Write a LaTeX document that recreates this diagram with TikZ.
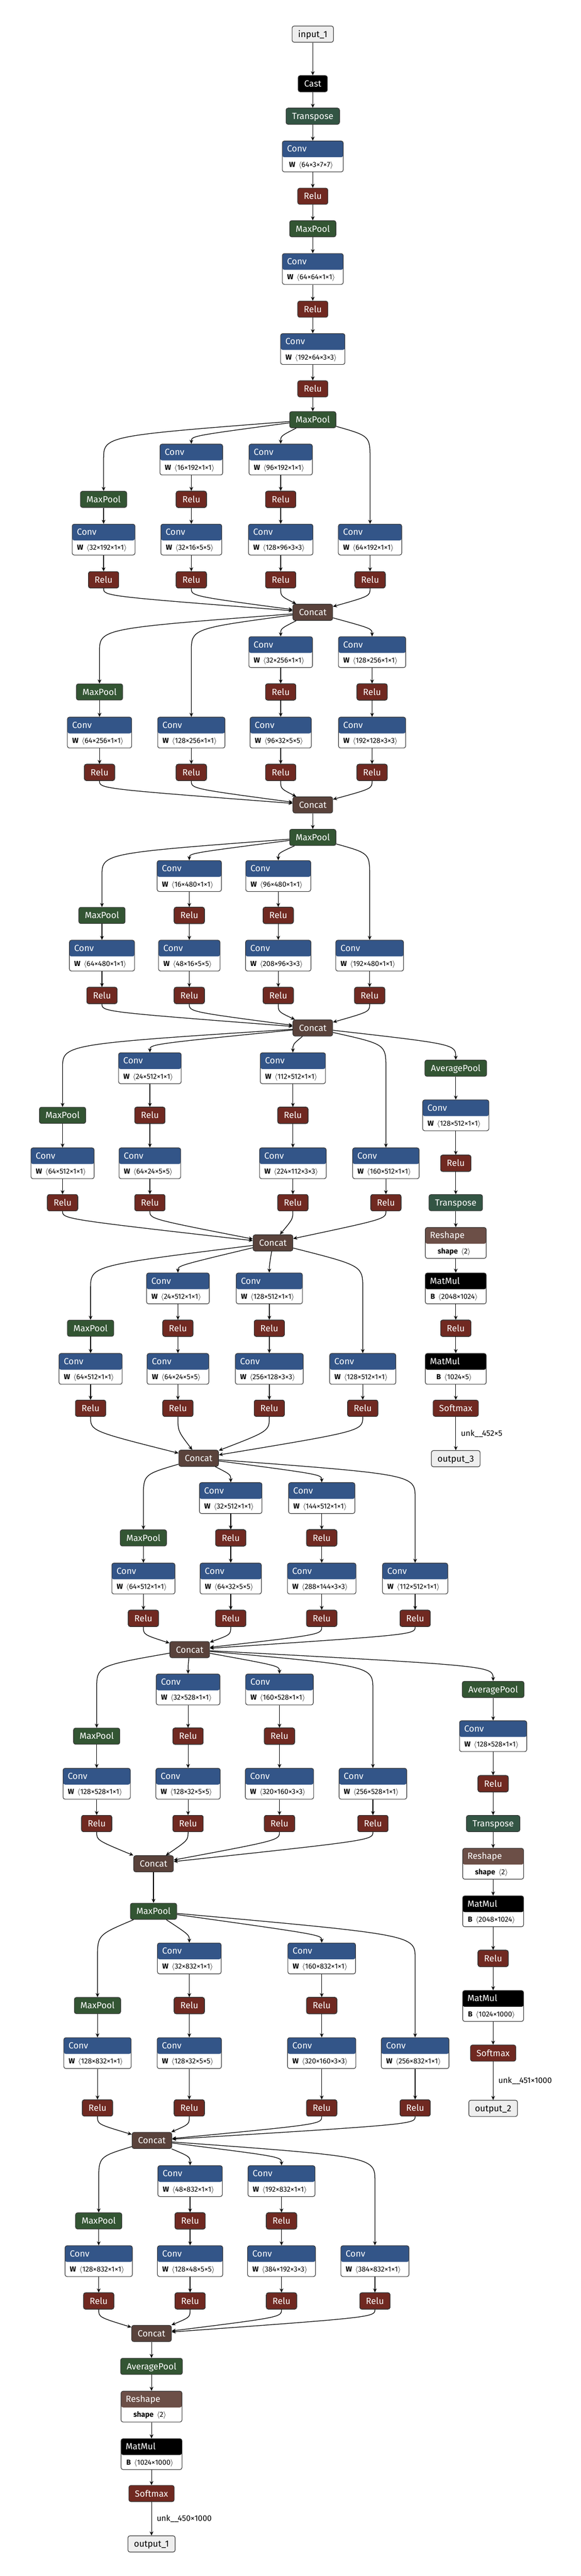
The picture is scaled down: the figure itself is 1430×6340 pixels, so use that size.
\documentclass[tikz,border=0pt]{standalone}
\usepackage{fontspec}
\setmainfont{Fira Sans}
\usepackage{xcolor}
\usetikzlibrary{arrows.meta}

\definecolor{convblue}{HTML}{335588}
\definecolor{actred}{HTML}{702921}
\definecolor{poolgreen}{HTML}{335533}
\definecolor{transgreen}{HTML}{335544}
\definecolor{shapebrown}{HTML}{6C4F47}
\definecolor{tensorbrown}{HTML}{59423B}
\definecolor{iogray}{HTML}{EEEEEE}
\definecolor{linegray}{HTML}{333333}

% box with a coloured header and one attribute line
\newcommand\opnode[6]{%
  \node[opbody=#4] (#1) at (#2,#3) {#6\hspace{4pt}};
  \node[optitle] at ([xshift=6pt,yshift=-10pt]#1.north west) {#5};
}
\newcommand\convnode[4]{\opnode{#1}{#2}{#3}{convblue}{Conv}{\textbf{W}\hspace{4pt}$\langle$#4$\rangle$}}

\begin{document}
\begin{tikzpicture}[x=0.5pt, y=-0.5pt]
    \tikzset{
        simple/.style={draw=linegray, line width=0.7pt, rounded corners=2.5pt, text=white,
                font=\fontsize{11}{12}\selectfont, minimum height=20pt, inner xsep=7.5pt,
                inner ysep=0pt, text height=7.7pt, text depth=0pt},
        relu/.style={simple, fill=actred},
        pool/.style={simple, fill=poolgreen},
        trans/.style={simple, fill=transgreen},
        concat/.style={simple, fill=tensorbrown},
        defop/.style={simple, fill=black},
        io/.style={simple, fill=iogray, text=black},
        opbody/.style={draw=linegray, line width=0.7pt, rounded corners=2.5pt, fill=white,
                font=\fontsize{9}{10}\selectfont, minimum width=75pt, inner xsep=6pt,
                inner ysep=0pt, text height=32.1pt, text depth=5.9pt, align=left,
                path picture={\fill[#1] (path picture bounding box.north west)
                        rectangle ([yshift=-20pt]path picture bounding box.north east);}},
        optitle/.style={anchor=west, text=white, font=\fontsize{11}{12}\selectfont,
                inner sep=0pt, text height=7.7pt, text depth=0pt},
        edge/.style={-{Stealth[length=5pt,width=4.5pt]}, line width=0.8pt, black},
        elabel/.style={right, font=\fontsize{10}{12}\selectfont, text=black, inner xsep=6pt}
    }
    \fill[white] (0,0) rectangle (1430,6340);
    \useasboundingbox (0,0) rectangle (1430,6340);

    % Stem
    \node[io] (in1) at (770,84) {input\_1};
    \node[defop] (cast) at (770,206) {Cast};
    \node[trans] (tr0) at (770,286) {Transpose};
    \convnode{c0}{770}{385}{64×3×7×7}
    \node[relu] (r0) at (770,483) {Relu};
    \node[pool] (mp0) at (770,563) {MaxPool};
    \convnode{c1}{770}{662}{64×64×1×1}
    \node[relu] (r1) at (770,761) {Relu};
    \convnode{c2}{770}{859}{192×64×3×3}
    \node[relu] (r2) at (770,957) {Relu};
    \node[pool] (mp1) at (770,1033) {MaxPool};
    \foreach \a/\b in {in1/cast, cast/tr0, tr0/c0, c0/r0, r0/mp0, mp0/c1, c1/r1, r1/c2, c2/r2, r2/mp1}
        \draw[edge] (\a) -- (\b);

    % Inception 3a
    \node[pool] (m3a) at (255,1229) {MaxPool};
    \foreach \n/\x/\y/\d in {c3a2/471/1131/16×192×1×1, c3a4/691/1131/96×192×1×1,
            c3a1/255/1328/32×192×1×1, c3a3/471/1328/32×16×5×5, c3a5/691/1328/128×96×3×3,
            c3a6/911/1328/64×192×1×1}
        \convnode{\n}{\x}{\y}{\d}
    \foreach \n/\x/\y in {r3a2/471/1229, r3a4/691/1229, r3a1/255/1427, r3a3/471/1427,
            r3a5/691/1427, r3a6/911/1427}
        \node[relu] (\n) at (\x,\y) {Relu};
    \node[concat] (cc3a) at (770,1507) {Concat};
    \foreach \t/\x in {c3a2/471, c3a4/691}
        \draw[edge] (mp1) .. controls (\x,1073) .. (\t);
    \foreach \t/\x in {m3a/255, c3a6/911}
        \draw[edge] (mp1) .. controls (\x,1073) .. (\x,1131) -- (\t);
    \foreach \a/\b in {m3a/c3a1, c3a1/r3a1, c3a2/r3a2, r3a2/c3a3, c3a3/r3a3, c3a4/r3a4,
            r3a4/c3a5, c3a5/r3a5, c3a6/r3a6}
        \draw[edge] (\a) -- (\b);
    \foreach \r/\x in {r3a1/255, r3a3/471, r3a5/691, r3a6/911}
        \draw[edge] (\r) .. controls (\x,1467) .. (cc3a);

    % Inception 3b
    \node[pool] (m3b) at (245,1703) {MaxPool};
    \foreach \n/\x/\y/\d in {c3b2/691/1605/32×256×1×1, c3b4/916/1605/128×256×1×1,
            c3b1/245/1803/64×256×1×1, c3b6/471/1803/128×256×1×1, c3b3/691/1803/96×32×5×5,
            c3b5/916/1803/192×128×3×3}
        \convnode{\n}{\x}{\y}{\d}
    \foreach \n/\x/\y in {r3b2/691/1703, r3b4/916/1703, r3b1/245/1901, r3b6/471/1901,
            r3b3/691/1901, r3b5/916/1901}
        \node[relu] (\n) at (\x,\y) {Relu};
    \node[concat] (cc3b) at (770,1981) {Concat};
    \node[pool] (mp2) at (770,2061) {MaxPool};
    \foreach \t/\x in {c3b2/691, c3b4/916}
        \draw[edge] (cc3a) .. controls (\x,1547) .. (\t);
    \foreach \t/\x in {m3b/245, c3b6/471}
        \draw[edge] (cc3a) .. controls (\x,1547) .. (\x,1605) -- (\t);
    \foreach \a/\b in {m3b/c3b1, c3b1/r3b1, c3b6/r3b6, c3b2/r3b2, r3b2/c3b3, c3b3/r3b3,
            c3b4/r3b4, r3b4/c3b5, c3b5/r3b5, cc3b/mp2}
        \draw[edge] (\a) -- (\b);
    \foreach \r/\x in {r3b1/245, r3b6/471, r3b3/691, r3b5/916}
        \draw[edge] (\r) .. controls (\x,1941) .. (cc3b);

    % Inception 4a
    \node[pool] (m4a) at (251,2253) {MaxPool};
    \foreach \n/\x/\y/\d in {c4a2/466/2156/16×480×1×1, c4a4/685/2156/96×480×1×1,
            c4a1/251/2352/64×480×1×1, c4a3/466/2352/48×16×5×5, c4a5/685/2352/208×96×3×3,
            c4a6/910/2352/192×480×1×1}
        \convnode{\n}{\x}{\y}{\d}
    \foreach \n/\x/\y in {r4a2/466/2253, r4a4/685/2253, r4a1/251/2450, r4a3/466/2450,
            r4a5/685/2450, r4a6/910/2450}
        \node[relu] (\n) at (\x,\y) {Relu};
    \node[concat] (cc4a) at (770,2530) {Concat};
    \foreach \t/\x in {c4a2/466, c4a4/685}
        \draw[edge] (mp2) .. controls (\x,2100) .. (\t);
    \foreach \t/\x in {m4a/251, c4a6/910}
        \draw[edge] (mp2) .. controls (\x,2100) .. (\x,2156) -- (\t);
    \foreach \a/\b in {m4a/c4a1, c4a1/r4a1, c4a2/r4a2, r4a2/c4a3, c4a3/r4a3, c4a4/r4a4,
            r4a4/c4a5, c4a5/r4a5, c4a6/r4a6}
        \draw[edge] (\a) -- (\b);
    \foreach \r/\x in {r4a1/251, r4a3/466, r4a5/685, r4a6/910}
        \draw[edge] (\r) .. controls (\x,2490) .. (cc4a);

    % Inception 4b and first side output
    \node[pool] (m4b) at (154,2745) {MaxPool};
    \foreach \n/\x/\y/\d in {c4b2/369/2629/24×512×1×1, c4b4/721/2629/112×512×1×1,
            c4b1/154/2863/64×512×1×1, c4b3/369/2863/64×24×5×5, c4b5/721/2863/224×112×3×3,
            c4b6/950/2863/160×512×1×1, ac1/1122/2745/128×512×1×1}
        \convnode{\n}{\x}{\y}{\d}
    \foreach \n/\x/\y in {r4b2/369/2745, r4b4/721/2745, r4b1/154/2960, r4b3/369/2960,
            r4b5/721/2960, r4b6/950/2960, ar1/1122/2863, ar1b/1122/3269}
        \node[relu] (\n) at (\x,\y) {Relu};
    \node[pool] (ap1) at (1122,2629) {AveragePool};
    \node[trans] (at1) at (1122,2960) {Transpose};
    \opnode{rs1}{1122}{3059}{shapebrown}{Reshape}{\textbf{shape}\hspace{4pt}$\langle$2$\rangle$}
    \opnode{mm1}{1122}{3171}{black}{MatMul}{\textbf{B}\hspace{4pt}$\langle$2048×1024$\rangle$}
    \opnode{mm1b}{1122}{3369}{black}{MatMul}{\textbf{B}\hspace{4pt}$\langle$1024×5$\rangle$}
    \node[relu] (sm1) at (1122,3466) {Softmax};
    \node[io] (out3) at (1122,3590) {output\_3};
    \node[concat] (cc4b) at (672,3059) {Concat};
    \foreach \t/\x in {c4b2/369, c4b4/721, ap1/1122}
        \draw[edge] (cc4a) .. controls (\x,2570) .. (\t);
    \foreach \t/\x in {m4b/154, c4b6/950}
        \draw[edge] (cc4a) .. controls (\x,2570) .. (\x,2629) -- (\t);
    \foreach \a/\b in {m4b/c4b1, c4b1/r4b1, c4b2/r4b2, r4b2/c4b3, c4b3/r4b3, c4b4/r4b4,
            r4b4/c4b5, c4b5/r4b5, c4b6/r4b6, ap1/ac1, ac1/ar1, ar1/at1, at1/rs1, rs1/mm1,
            mm1/ar1b, ar1b/mm1b, mm1b/sm1}
        \draw[edge] (\a) -- (\b);
    \draw[edge] (sm1) -- node[elabel] {unk\_\_452×5} (out3);
    \foreach \r/\x in {r4b1/154, r4b3/369, r4b5/721, r4b6/950}
        \draw[edge] (\r) .. controls (\x,3000) .. (cc4b);

    % Inception 4c
    \node[pool] (m4c) at (223,3269) {MaxPool};
    \foreach \n/\x/\y/\d in {c4c2/438/3171/24×512×1×1, c4c4/663/3171/128×512×1×1,
            c4c1/223/3369/64×512×1×1, c4c3/438/3369/64×24×5×5, c4c5/663/3369/256×128×3×3,
            c4c6/893/3369/128×512×1×1}
        \convnode{\n}{\x}{\y}{\d}
    \foreach \n/\x/\y in {r4c2/438/3269, r4c4/663/3269, r4c1/223/3466, r4c3/438/3466,
            r4c5/663/3466, r4c6/893/3466}
        \node[relu] (\n) at (\x,\y) {Relu};
    \node[concat] (cc4c) at (489,3589) {Concat};
    \foreach \t/\x in {c4c2/438, c4c4/663}
        \draw[edge] (cc4b) .. controls (\x,3115) .. (\t);
    \foreach \t/\x in {m4c/223, c4c6/893}
        \draw[edge] (cc4b) .. controls (\x,3115) .. (\x,3171) -- (\t);
    \foreach \a/\b in {m4c/c4c1, c4c1/r4c1, c4c2/r4c2, r4c2/c4c3, c4c3/r4c3, c4c4/r4c4,
            r4c4/c4c5, c4c5/r4c5, c4c6/r4c6}
        \draw[edge] (\a) -- (\b);
    \foreach \r/\x in {r4c1/223, r4c3/438, r4c5/663, r4c6/893}
        \draw[edge] (\r) .. controls (\x,3522) .. (cc4c);

    % Inception 4d
    \node[pool] (m4d) at (353,3785) {MaxPool};
    \foreach \n/\x/\y/\d in {c4d2/568/3687/32×512×1×1, c4d4/792/3687/144×512×1×1,
            c4d1/353/3885/64×512×1×1, c4d3/568/3885/64×32×5×5, c4d5/792/3885/288×144×3×3,
            c4d6/1022/3885/112×512×1×1}
        \convnode{\n}{\x}{\y}{\d}
    \foreach \n/\x/\y in {r4d2/568/3785, r4d4/792/3785, r4d1/353/3983, r4d3/568/3983,
            r4d5/792/3983, r4d6/1022/3983}
        \node[relu] (\n) at (\x,\y) {Relu};
    \node[concat] (cc4d) at (467,4060) {Concat};
    \foreach \t/\x in {c4d2/568, c4d4/792}
        \draw[edge] (cc4c) .. controls (\x,3629) .. (\t);
    \foreach \t/\x in {m4d/353, c4d6/1022}
        \draw[edge] (cc4c) .. controls (\x,3629) .. (\x,3687) -- (\t);
    \foreach \a/\b in {m4d/c4d1, c4d1/r4d1, c4d2/r4d2, r4d2/c4d3, c4d3/r4d3, c4d4/r4d4,
            r4d4/c4d5, c4d5/r4d5, c4d6/r4d6}
        \draw[edge] (\a) -- (\b);
    \foreach \r/\x in {r4d1/353, r4d3/568, r4d5/792, r4d6/1022}
        \draw[edge] (\r) .. controls (\x,4023) .. (cc4d);

    % Inception 4e and second side output
    \node[pool] (m4e) at (238,4273) {MaxPool};
    \foreach \n/\x/\y/\d in {c4e2/463/4158/32×528×1×1, c4e4/688/4158/160×528×1×1,
            c4e1/238/4390/128×528×1×1, c4e3/463/4390/128×32×5×5, c4e5/688/4390/320×160×3×3,
            c4e6/918/4390/256×528×1×1, ac2/1214/4273/128×528×1×1}
        \convnode{\n}{\x}{\y}{\d}
    \foreach \n/\x/\y in {r4e2/463/4273, r4e4/688/4273, r4e1/238/4488, r4e3/463/4488,
            r4e5/688/4488, r4e6/918/4488, ar2/1214/4390, ar2b/1214/4820}
        \node[relu] (\n) at (\x,\y) {Relu};
    \node[pool] (ap2) at (1214,4158) {AveragePool};
    \node[trans] (at2) at (1214,4488) {Transpose};
    \opnode{rs2}{1214}{4587}{shapebrown}{Reshape}{\textbf{shape}\hspace{4pt}$\langle$2$\rangle$}
    \opnode{mm2}{1214}{4704}{black}{MatMul}{\textbf{B}\hspace{4pt}$\langle$2048×1024$\rangle$}
    \opnode{mm2b}{1214}{4937}{black}{MatMul}{\textbf{B}\hspace{4pt}$\langle$1024×1000$\rangle$}
    \node[relu] (sm2) at (1214,5053) {Softmax};
    \node[io] (out2) at (1214,5189) {output\_2};
    \node[concat] (cc4e) at (378,4587) {Concat};
    \node[pool] (mp3) at (378,4704) {MaxPool};
    \foreach \t/\x in {c4e2/463, c4e4/688, ap2/1214}
        \draw[edge] (cc4d) .. controls (\x,4100) .. (\t);
    \foreach \t/\x in {m4e/238, c4e6/918}
        \draw[edge] (cc4d) .. controls (\x,4100) .. (\x,4158) -- (\t);
    \foreach \a/\b in {m4e/c4e1, c4e1/r4e1, c4e2/r4e2, r4e2/c4e3, c4e3/r4e3, c4e4/r4e4,
            r4e4/c4e5, c4e5/r4e5, c4e6/r4e6, cc4e/mp3, ap2/ac2, ac2/ar2, ar2/at2, at2/rs2,
            rs2/mm2, mm2/ar2b, ar2b/mm2b, mm2b/sm2}
        \draw[edge] (\a) -- (\b);
    \draw[edge] (sm2) -- node[elabel] {unk\_\_451×1000} (out2);
    \foreach \r/\x in {r4e1/238, r4e3/463, r4e5/688, r4e6/918}
        \draw[edge] (\r) .. controls (\x,4529) .. (cc4e);

    % Inception 5a
    \node[pool] (m5a) at (240,4936) {MaxPool};
    \foreach \n/\x/\y/\d in {c5a2/466/4820/32×832×1×1, c5a4/792/4820/160×832×1×1,
            c5a1/240/5053/128×832×1×1, c5a3/466/5053/128×32×5×5, c5a5/792/5053/320×160×3×3,
            c5a6/1022/5053/256×832×1×1}
        \convnode{\n}{\x}{\y}{\d}
    \foreach \n/\x/\y in {r5a2/466/4936, r5a4/792/4936, r5a1/240/5188, r5a3/466/5188,
            r5a5/792/5188, r5a6/1022/5188}
        \node[relu] (\n) at (\x,\y) {Relu};
    \node[concat] (cc5a) at (374,5268) {Concat};
    \foreach \t/\x in {c5a2/466, c5a4/792}
        \draw[edge] (mp3) .. controls (\x,4762) .. (\t);
    \foreach \t/\x in {m5a/240, c5a6/1022}
        \draw[edge] (mp3) .. controls (\x,4762) .. (\x,4820) -- (\t);
    \foreach \a/\b in {m5a/c5a1, c5a1/r5a1, c5a2/r5a2, r5a2/c5a3, c5a3/r5a3, c5a4/r5a4,
            r5a4/c5a5, c5a5/r5a5, c5a6/r5a6}
        \draw[edge] (\a) -- (\b);
    \foreach \r/\x in {r5a1/240, r5a3/466, r5a5/792, r5a6/1022}
        \draw[edge] (\r) .. controls (\x,5228) .. (cc5a);

    % Inception 5b and main output
    \node[pool] (m5b) at (243,5466) {MaxPool};
    \foreach \n/\x/\y/\d in {c5b2/468/5368/48×832×1×1, c5b4/693/5368/192×832×1×1,
            c5b1/243/5565/128×832×1×1, c5b3/468/5565/128×48×5×5, c5b5/693/5565/384×192×3×3,
            c5b6/923/5565/384×832×1×1}
        \convnode{\n}{\x}{\y}{\d}
    \foreach \n/\x/\y in {r5b2/468/5466, r5b4/693/5466, r5b1/243/5663, r5b3/468/5663,
            r5b5/693/5663, r5b6/923/5663}
        \node[relu] (\n) at (\x,\y) {Relu};
    \node[concat] (cc5b) at (373,5743) {Concat};
    \node[pool] (apf) at (373,5824) {AveragePool};
    \opnode{rsf}{373}{5923}{shapebrown}{Reshape}{\textbf{shape}\hspace{4pt}$\langle$2$\rangle$}
    \opnode{mmf}{373}{6040}{black}{MatMul}{\textbf{B}\hspace{4pt}$\langle$1024×1000$\rangle$}
    \node[relu] (smf) at (373,6137) {Softmax};
    \node[io] (out1) at (373,6261) {output\_1};
    \foreach \t/\x in {c5b2/468, c5b4/693}
        \draw[edge] (cc5a) .. controls (\x,5308) .. (\t);
    \foreach \t/\x in {m5b/243, c5b6/923}
        \draw[edge] (cc5a) .. controls (\x,5308) .. (\x,5368) -- (\t);
    \foreach \a/\b in {m5b/c5b1, c5b1/r5b1, c5b2/r5b2, r5b2/c5b3, c5b3/r5b3, c5b4/r5b4,
            r5b4/c5b5, c5b5/r5b5, c5b6/r5b6, cc5b/apf, apf/rsf, rsf/mmf, mmf/smf}
        \draw[edge] (\a) -- (\b);
    \draw[edge] (smf) -- node[elabel] {unk\_\_450×1000} (out1);
    \foreach \r/\x in {r5b1/243, r5b3/468, r5b5/693, r5b6/923}
        \draw[edge] (\r) .. controls (\x,5703) .. (cc5b);
\end{tikzpicture}
\end{document}
